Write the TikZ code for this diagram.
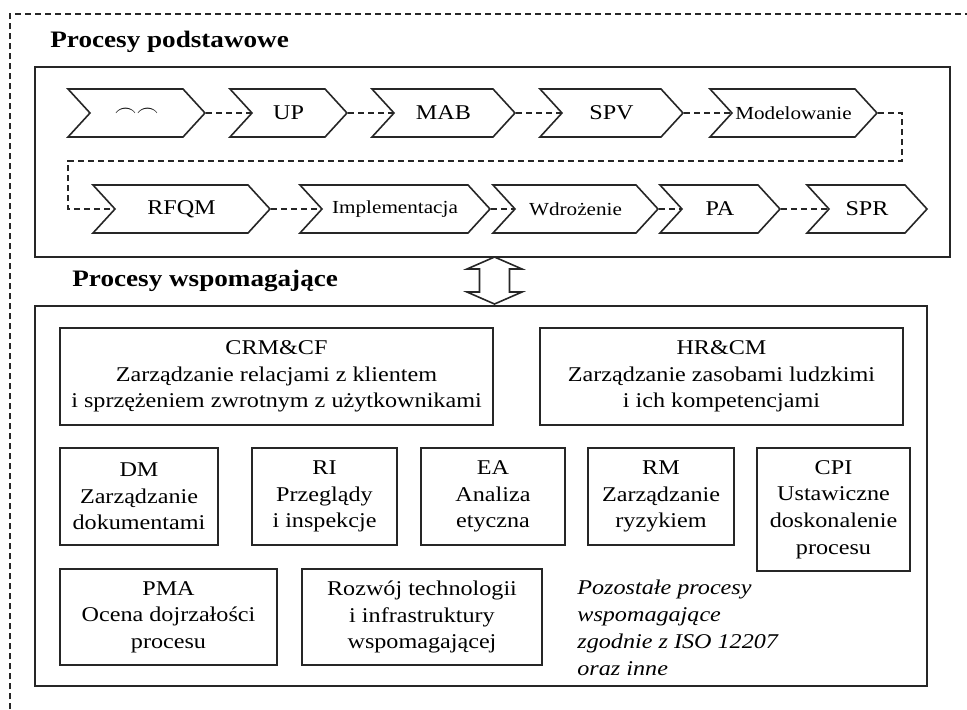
\documentclass[tikz,border=0pt]{standalone}
\usepackage{fontspec}
\setmainfont{Liberation Serif}[FakeStretch=1.15]
\usepackage{tikz}
\usetikzlibrary{positioning,arrows.meta,shapes.symbols}

\begin{document}
\begin{tikzpicture}[
    x=0.5pt, y=-0.5pt,
    chev/.style={
        signal, signal to=east, signal from=west,
        signal pointer angle=95,
        draw=black!85, line width=0.8pt,
        minimum height=24pt, inner sep=1pt,
        font=\fontsize{10.5}{12}\selectfont
    },
    chevs/.style={chev, font=\fontsize{9.2}{11}\selectfont},
    box/.style={
        rectangle, draw=black!85, line width=0.8pt,
        align=center, inner sep=2pt,
        font=\fontsize{10.5}{13.3}\selectfont
    },
    frame/.style={draw=black!85, line width=0.8pt},
    conn/.style={draw=black!85, line width=0.7pt, dash pattern=on 3pt off 2pt},
    title/.style={font=\fontsize{11.8}{14}\selectfont\bfseries, inner sep=0pt},
]
\useasboundingbox (0,0) rectangle (967,709);

% ── Outer dashed frame ──
\coordinate (fbl) at (10,709);
\coordinate (ftl) at (10,14);
\coordinate (ftr) at (967,14);
\draw[conn] (fbl) -- (ftl) -- (ftr);

% ── Procesy podstawowe ──
\node[title, anchor=base west] (tmain) at (50,47) {Procesy podstawowe};
\draw[frame] (35,67) rectangle (950,257);

% row 1
\node[chev, minimum width=68.5pt] (oc)   at (136.5,113) {$\frown\frown$};
\node[chev, minimum width=58.5pt] (up)   at (288.5,113) {UP};
\node[chev, minimum width=71.5pt] (mab)  at (443.5,113) {MAB};
\node[chev, minimum width=71.5pt] (spv)  at (611.5,113) {SPV};
\node[chevs, minimum width=83.5pt] (mod) at (793.5,113) {Modelowanie};

% row 2
\node[chev, minimum width=88.5pt] (rfqm)  at (181.5,209) {RFQM};
\node[chevs, minimum width=95pt] (impl)   at (395,209) {Implementacja};
\node[chevs, minimum width=82.5pt] (wdr)  at (575.5,209) {Wdrożenie};
\node[chev, minimum width=60pt] (pa)      at (720,209) {PA};
\node[chev, minimum width=60pt] (spr)     at (867,209) {SPR};

\draw[conn] (oc.east) -- (up.west);
\draw[conn] (up.east) -- (mab.west);
\draw[conn] (mab.east) -- (spv.west);
\draw[conn] (spv.east) -- (mod.west);
\coordinate (turnR) at (902,161);
\coordinate (turnL) at (68,161);
\draw[conn] (mod.east) -| (turnR) -- (turnL) |- (rfqm.west);
\draw[conn] (rfqm.east) -- (impl.west);
\draw[conn] (impl.east) -- (wdr.west);
\draw[conn] (wdr.east) -- (pa.west);
\draw[conn] (pa.east) -- (spr.west);

% ── Link between groups (hollow double arrow) ──
\coordinate (link) at (494.5,257);
\draw[frame, line join=miter] (link) -- ++(27.5,12) -- ++(-12.5,0) -- ++(0,23)
    -- ++(12.5,0) -- ++(-27.5,12) -- ++(-27.5,-12) -- ++(12.5,0)
    -- ++(0,-23) -- ++(-12.5,0) -- cycle;

% ── Procesy wspomagające ──
\node[title, anchor=base west] (tsupp) at (72,286) {Procesy wspomagające};
\draw[frame] (35,306) rectangle (927,686);

\node[box, minimum width=216.5pt, minimum height=48.5pt] (crm) at (276.5,376.5)
    {CRM\&CF\\Zarządzanie relacjami z klientem\\i sprzężeniem zwrotnym z użytkownikami};
\node[box, minimum width=181.5pt, minimum height=48.5pt] (hr) at (721.5,376.5)
    {HR\&CM\\Zarządzanie zasobami ludzkimi\\i ich kompetencjami};

\node[box, minimum width=79pt, minimum height=48.5pt] (dm) at (139,496.5)
    {DM\\Zarządzanie\\dokumentami};
\node[box, minimum width=72.5pt, minimum height=48.5pt] (ri) at (324.5,496.5)
    {RI\\Przeglądy\\i inspekcje};
\node[box, minimum width=72pt, minimum height=48.5pt] (ea) at (493,496.5)
    {EA\\Analiza\\etyczna};
\node[box, minimum width=73pt, minimum height=48.5pt] (rm) at (661,496.5)
    {RM\\Zarządzanie\\ryzykiem};
\node[box, minimum width=76.5pt, minimum height=61.5pt] (cpi) at (833.5,509.5)
    {CPI\\Ustawiczne\\doskonalenie\\procesu};

\node[box, minimum width=108.5pt, minimum height=48pt] (pma) at (168.5,617)
    {PMA\\Ocena dojrzałości\\procesu};
\node[box, minimum width=120pt, minimum height=48pt] (tech) at (422,617)
    {Rozwój technologii\\i infrastruktury\\wspomagającej};

\node[anchor=north west, align=left, inner sep=0pt,
      font=\fontsize{10.5}{13.5}\selectfont\itshape] (other) at (577,580)
    {Pozostałe procesy\\wspomagające\\zgodnie z ISO 12207\\oraz inne};

\end{tikzpicture}
\end{document}
